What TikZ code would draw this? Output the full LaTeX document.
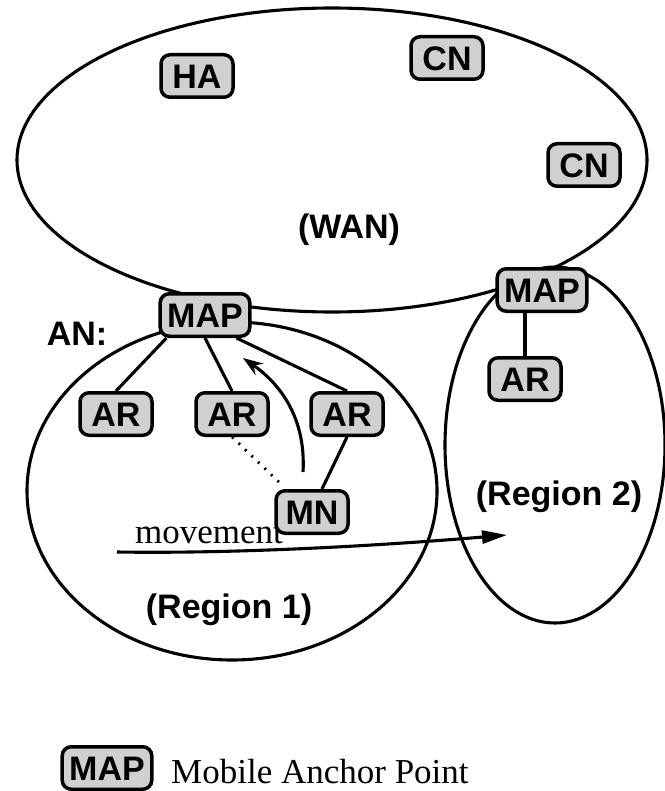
\documentclass[tikz,border=0pt]{standalone}
\usepackage{fontspec}
\setmainfont{Liberation Serif}
\setsansfont{Liberation Sans}
\usetikzlibrary{arrows.meta}
\definecolor{boxgray}{RGB}{208,208,208}
\tikzset{
  netbox/.style={draw, line width=3.5pt, fill=boxgray, rounded corners=9pt,
    font=\sffamily\bfseries\fontsize{34}{38}\selectfont,
    text height=24.5pt, text depth=0pt, inner ysep=9pt, inner xsep=7pt,
    minimum width=72pt},
  region/.style={draw, line width=3.1pt},
  link/.style={line width=3.1pt},
  bigtag/.style={font=\sffamily\bfseries\fontsize{34}{38}\selectfont},
  serifnote/.style={font=\fontsize{35}{40}\selectfont, inner sep=0pt}
}
\begin{document}
\begin{tikzpicture}[x=1pt,y=-1pt]
\useasboundingbox (0,0) rectangle (664,791);

% network areas
\draw[region] (332,160) ellipse [x radius=315, y radius=152];
\draw[region] (232,491) ellipse [x radius=205, y radius=169];
\draw[region] (555,445) ellipse [x radius=110, y radius=178];

% area labels
\node[bigtag] (wan) at (349,230) {(WAN)};
\node[bigtag] (reg1) at (229,610) {(Region 1)};
\node[bigtag] (reg2) at (559,497) {(Region 2)};
\node[bigtag] (an) at (77,334) {AN:};

% nodes
\node[netbox] (ha) at (197,76) {HA};
\node[netbox] (cn1) at (447,58) {CN};
\node[netbox] (cn2) at (584,165) {CN};
\node[netbox] (mapL) at (205,315) {MAP};
\node[netbox] (mapR) at (542,290) {MAP};
\node[netbox] (ar1) at (116,414) {AR};
\node[netbox] (ar2) at (232,414) {AR};
\node[netbox] (ar3) at (347,414) {AR};
\node[netbox] (arR) at (525,379) {AR};

% movement text sits under the MN box
\node[serifnote, anchor=base] (mvtext) at (209,543) {movement};
\node[netbox] (mn) at (312,512) {MN};

% links inside the access networks
\draw[link] ([xshift=8pt]mapL.south west) -- (ar1.north);
\draw[link] (mapL.south) -- (ar2.north);
\draw[link] ([xshift=-15pt]mapL.south east) -- (ar3.north);
\draw[link] (ar3.south) -- ([xshift=10pt]mn.north);
\draw[link] (arR.north |- mapR.south) -- (arR.north);
\draw[line width=2.8pt, dash pattern=on 2pt off 7pt] (ar2.south) -- ([xshift=-32pt,yshift=6pt]mn.north);

% handover signalling towards the MAP
\coordinate (sigstart) at (303,472);
\coordinate (sigend) at (243,358);
\draw[link, -{Stealth[length=20pt,width=14pt,inset=7pt]}]
  (sigstart) .. controls (306,420) and (282,385) .. (sigend);

% movement of the MN between regions
\coordinate (mvstart) at (117,552);
\coordinate (mvend) at (507,535);
\draw[link, -{Triangle[length=25pt,width=13pt]}]
  (mvstart) .. controls (250,554) and (400,544) .. (mvend);

% legend
\node[netbox, minimum width=0pt] (legmap) at (107,768) {MAP};
\node[serifnote, anchor=base west] (legtext) at (171,783) {Mobile Anchor Point};
\end{tikzpicture}
\end{document}
